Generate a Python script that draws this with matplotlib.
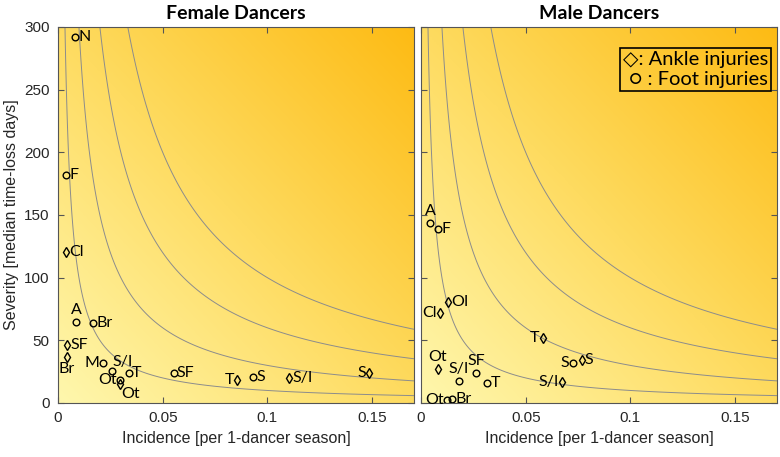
import numpy as np
import matplotlib.pyplot as plt
from matplotlib.colors import LinearSegmentedColormap

# female dancers
f_ankle_lab = ['Cl', 'SF', 'Br', 'Ot', 'T', 'S/I', 'S']
f_ankle_inc = [0.0038, 0.0043, 0.0043, 0.0295, 0.0856, 0.1105, 0.1486]
f_ankle_sev = [120.5, 46, 37, 15, 18, 20, 24]
f_ankle_pos = ['r', 'r', 'b', 'br', 'l', 'r', 'l']

f_foot_lab = ['N', 'F', 'A', 'Br', 'M', 'S/I', 'T', 'Ot', 'SF', 'S']
f_foot_inc = [0.0081, 0.0038, 0.0086, 0.0167, 0.0214, 0.0257, 0.0338, 0.0295, 0.0552, 0.093]
f_foot_sev = [292, 182, 64.5, 64, 32, 25.5, 24, 18.5, 24, 21]
f_foot_pos = ['r', 'r', 't', 'r', 'l', 'tr', 'r', 'l', 'r', 'r']

# male dancers
m_ankle_lab = ['Cl', 'OI', 'T', 'Ot', 'S', 'S/I']
m_ankle_inc = [0.009, 0.0128, 0.0582, 0.008, 0.0767, 0.0672]
m_ankle_sev = [72, 80.5, 52, 27, 34, 16.5]
m_ankle_pos = ['l', 'r', 'l', 't', 'r', 'l']

m_foot_lab = ['A', 'F', 'S/I', 'SF', 'T', 'S', 'Ot', 'Br']
m_foot_inc = [0.0043, 0.008, 0.018, 0.0265, 0.0317, 0.0724, 0.0125, 0.015]
m_foot_sev = [143.5, 139, 17.5, 24, 16, 32, 2, 3.5]
m_foot_pos = ['t', 'r', 't', 't', 'r', 'l', 'l', 'r']

levels = [1, 3, 6, 10]   # burden contours (incidence x severity)
xmax, ymax = 0.17, 300

cmap = LinearSegmentedColormap.from_list('bg', ['#fff7ad', '#fedb60', '#fdbb14'])
gx, gy = np.meshgrid(np.linspace(0, xmax, 300), np.linspace(0, ymax, 300))
grad = 0.5 * (gx / xmax + gy / ymax)
burden = gx * gy

lab_font = dict(family=['Lato', 'DejaVu Sans'], fontsize=11.5)

def put_label(ax, x, y, s, pos):
    dx, dy = 0.0016, 0
    ha, va = 'left', 'center'
    if pos == 'l':
        dx, ha = -0.0016, 'right'
    elif pos == 't':
        dx, dy, ha, va = 0, 4, 'center', 'bottom'
    elif pos == 'b':
        dx, dy, ha, va = 0, -4, 'center', 'top'
    elif pos == 'tr':
        dx, dy, ha, va = 0.0005, 2, 'left', 'bottom'
    elif pos == 'tl':
        dx, dy, ha, va = -0.0005, 2, 'right', 'bottom'
    elif pos == 'br':
        dx, dy, ha, va = 0.0005, -2, 'left', 'top'
    ax.text(x + dx, y + dy, s, ha=ha, va=va, **lab_font)

def panel(ax, title, a_lab, a_inc, a_sev, a_pos, f_lab, f_inc, f_sev, f_pos):
    ax.imshow(grad, extent=[0, xmax, 0, ymax], origin='lower', aspect='auto',
              cmap=cmap, vmin=0, vmax=1, zorder=0)
    ax.contour(gx, gy, burden, levels=levels, colors='#8c8c8c', linewidths=0.7)
    ax.plot(a_inc, a_sev, 'd', ms=5.5, mfc='none', mec='black', mew=1.0)
    ax.plot(f_inc, f_sev, 'o', ms=4.8, mfc='none', mec='black', mew=1.0)
    for x, y, s, p in zip(a_inc, a_sev, a_lab, a_pos):
        put_label(ax, x, y, s, p)
    for x, y, s, p in zip(f_inc, f_sev, f_lab, f_pos):
        put_label(ax, x, y, s, p)
    ax.set_xlim(0, xmax)
    ax.set_ylim(0, ymax)
    ax.set_xticks([0, 0.05, 0.1, 0.15])
    ax.set_xticklabels(['0', '0.05', '0.1', '0.15'])
    ax.set_yticks(range(0, 301, 50))
    ax.tick_params(direction='in', top=True, right=True, length=4, color='#555555',
                   labelsize=11, labelcolor='#262626', pad=6)
    for sp in ax.spines.values():
        sp.set_color('#555555')
    ax.set_title(title, fontsize=14, fontweight='bold', family=['Lato', 'DejaVu Sans'], pad=6)
    ax.set_xlabel('Incidence [per 1-dancer season]', fontsize=11.5, color='#262626', labelpad=4)

plt.rcParams['font.family'] = ['Liberation Sans', 'DejaVu Sans']
fig = plt.figure(figsize=(7.8, 4.57), dpi=100)
ax1 = fig.add_axes([58 / 780, 1 - 403 / 457, 356 / 780, 376 / 457])
ax2 = fig.add_axes([421 / 780, 1 - 403 / 457, 356 / 780, 376 / 457])

panel(ax1, 'Female Dancers', f_ankle_lab, f_ankle_inc, f_ankle_sev, f_ankle_pos,
      f_foot_lab, f_foot_inc, f_foot_sev, f_foot_pos)
panel(ax2, 'Male Dancers', m_ankle_lab, m_ankle_inc, m_ankle_sev, m_ankle_pos,
      m_foot_lab, m_foot_inc, m_foot_sev, m_foot_pos)
ax1.set_ylabel('Severity [median time-loss days]', fontsize=11.5, color='#262626', labelpad=4)
ax2.set_yticklabels([])

ax2.text(0.975, 0.935, '\u25c7: Ankle injuries\n\u25cb : Foot injuries', transform=ax2.transAxes,
         ha='right', va='top', family=['Lato', 'DejaVu Sans'], fontsize=14.5, linespacing=1.15,
         bbox=dict(boxstyle='square,pad=0.15', fc='none', ec='black', lw=1.2))

plt.savefig('out.png', dpi=100)
